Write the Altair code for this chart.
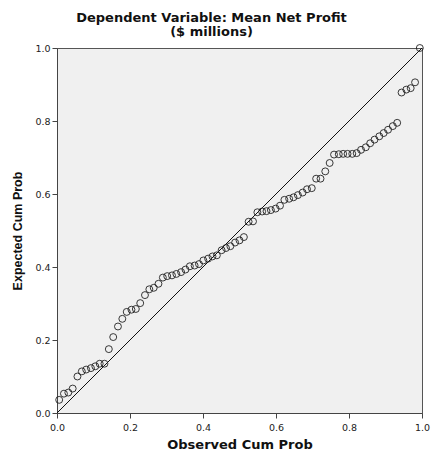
import altair as alt
import pandas as pd

observed = [0.006, 0.019, 0.031, 0.043, 0.056, 0.068, 0.080, 0.093, 0.105, 0.117,
            0.130, 0.142, 0.154, 0.167, 0.179, 0.191, 0.204, 0.216, 0.228, 0.241,
            0.253, 0.265, 0.278, 0.290, 0.302, 0.315, 0.327, 0.340, 0.352, 0.364,
            0.377, 0.389, 0.401, 0.414, 0.426, 0.438, 0.451, 0.463, 0.475, 0.488,
            0.500, 0.512, 0.525, 0.537, 0.549, 0.562, 0.574, 0.586, 0.599, 0.611,
            0.623, 0.636, 0.648, 0.660, 0.673, 0.685, 0.698, 0.710, 0.722, 0.735,
            0.747, 0.759, 0.772, 0.784, 0.796, 0.809, 0.821, 0.833, 0.846, 0.858,
            0.870, 0.883, 0.895, 0.907, 0.920, 0.932, 0.944, 0.957, 0.969, 0.981,
            0.994]
expected = [0.036, 0.053, 0.056, 0.067, 0.100, 0.114, 0.119, 0.123, 0.128, 0.135,
            0.135, 0.175, 0.208, 0.237, 0.258, 0.277, 0.283, 0.285, 0.301, 0.323,
            0.339, 0.343, 0.354, 0.371, 0.375, 0.377, 0.381, 0.386, 0.393, 0.402,
            0.404, 0.408, 0.418, 0.423, 0.429, 0.432, 0.446, 0.452, 0.457, 0.467,
            0.473, 0.482, 0.524, 0.525, 0.550, 0.552, 0.553, 0.556, 0.560, 0.568,
            0.584, 0.587, 0.591, 0.597, 0.604, 0.613, 0.616, 0.642, 0.642, 0.662,
            0.685, 0.708, 0.709, 0.710, 0.710, 0.710, 0.712, 0.721, 0.728, 0.739,
            0.749, 0.758, 0.767, 0.776, 0.786, 0.795, 0.878, 0.886, 0.890, 0.906,
            1.000]
ref_line = [0.0, 1.0]
ticks = [0.0, 0.2, 0.4, 0.6, 0.8, 1.0]

pts = pd.DataFrame({"obs": observed, "exp": expected})
line_df = pd.DataFrame({"obs": ref_line, "exp": ref_line})

FONT = "Liberation Sans"
WIDE = "DejaVu Sans"

x_scale = alt.Scale(domain=[0, 1], nice=False, zero=False)
y_scale = alt.Scale(domain=[0, 1], nice=False, zero=False)

x_axis = alt.Axis(values=ticks, format=".1f", title="Observed Cum Prob",
                  grid=False, tickSize=5, labelPadding=4, titlePadding=7,
                  labelFontSize=9.5, titleFontSize=13, titleFontWeight="bold",
                  labelFont=WIDE, titleFont=WIDE, labelColor="#222", titleColor="#111",
                  domainColor="#444", tickColor="#444", labelFlush=False)
y_axis = alt.Axis(values=ticks, format=".1f", title="Expected Cum Prob",
                  grid=False, tickSize=5, labelPadding=2, titlePadding=10,
                  labelFontSize=9.5, titleFontSize=12.5, titleFontWeight="bold",
                  labelFont=WIDE, titleFont=FONT, labelColor="#222", titleColor="#111",
                  domainColor="#444", tickColor="#444", labelFlush=False)

line = alt.Chart(line_df).mark_line(color="#111", strokeWidth=1, clip=True).encode(
    x=alt.X("obs:Q", scale=x_scale, axis=x_axis),
    y=alt.Y("exp:Q", scale=y_scale, axis=y_axis),
)

points = alt.Chart(pts).mark_point(shape="circle", filled=False, size=48,
                                   color="#222", strokeWidth=0.9, opacity=1).encode(
    x=alt.X("obs:Q", scale=x_scale),
    y=alt.Y("exp:Q", scale=y_scale),
)

chart = alt.layer(line, points).properties(
    width=365, height=365,
    background="white",
    title=alt.TitleParams(["Dependent Variable: Mean Net Profit", "($ millions)"],
                          font=WIDE, fontSize=13, fontWeight="bold", color="#111",
                          anchor="middle", offset=4, lineHeight=14, dx=-28),
    autosize="none",
    padding={"left": 57, "top": 48, "right": 9, "bottom": 47},
).configure_view(
    fill="#F0F0F0", stroke="#555", strokeWidth=1
)

chart.save("out.html", embed_options={"renderer": "svg", "actions": False})
